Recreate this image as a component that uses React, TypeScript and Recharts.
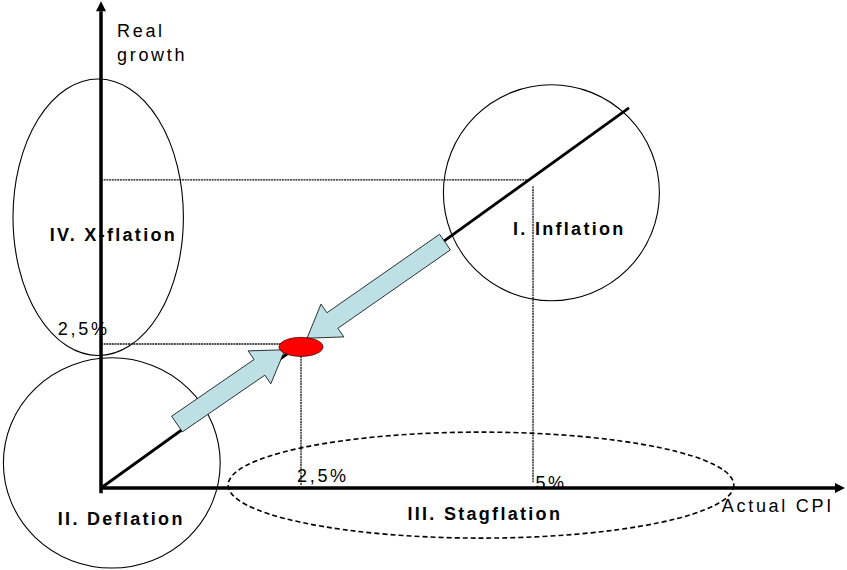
import {
  ComposedChart,
  Line,
  ReferenceArea,
  ReferenceDot,
  ReferenceLine,
  XAxis,
  YAxis,
} from "recharts";

// Diagram units: x = actual CPI, y = real growth. The trend line is growth = CPI.
const diagonal = [
  { cpi: 0, growth: 0 },
  { cpi: 6.6, growth: 6.6 },
];

const axisEnds = { cpi: 9.3, growth: 8.45 };

const targetPoint = { cpi: 2.5, growth: 2.45 };

// thin guide lines at the 2.5% and 5% levels
const guideLines = [
  { x1: 0, y1: 2.5, x2: 2.25, y2: 2.5 },
  { x1: 2.5, y1: 2.29, x2: 2.5, y2: 0.05 },
  { x1: 0, y1: 5.35, x2: 5.33, y2: 5.35 },
  { x1: 5.4, y1: 5.24, x2: 5.4, y2: 0.1 },
];

// regime bubbles (bounding boxes)
const regimes = [
  { name: "IV", x1: -1.1, x2: 1.03, y1: 2.3, y2: 7.1, dashed: false },
  { name: "I", x1: 4.28, x2: 6.98, y1: 3.25, y2: 7.0, dashed: false },
  { name: "II", x1: -1.22, x2: 1.49, y1: -1.39, y2: 2.26, dashed: false },
  { name: "III", x1: 1.59, x2: 7.91, y1: -0.87, y2: 0.97, dashed: true },
];

// the two block arrows pointing at the target
const arrows = [
  { x1: 0.95, y1: 1.11, x2: 2.3, y2: 2.4 },
  { x1: 4.3, y1: 4.27, x2: 2.575, y2: 2.6 },
];

const labels = [
  { text: "Real", x: 0.2, y: 7.83, bold: false },
  { text: "growth", x: 0.2, y: 7.41, bold: false },
  { text: "IV. X-flation", x: -0.64, y: 4.29, bold: true },
  { text: "I. Inflation", x: 5.15, y: 4.39, bold: true },
  { text: "2,5%", x: -0.54, y: 2.66, bold: false },
  { text: "2,5%", x: 2.45, y: 0.1, bold: false },
  { text: "5%", x: 5.43, y: -0.02, bold: false },
  { text: "Actual CPI", x: 7.76, y: -0.42, bold: false },
  { text: "II. Deflation", x: -0.54, y: -0.64, bold: true },
  { text: "III. Stagflation", x: 3.83, y: -0.56, bold: true },
];

const W = 847;
const H = 570;
const ORIGIN_LEFT = 101;
const ORIGIN_TOP = 488;
const PX_X = 80;
const PX_Y = 57.6;
const X_DOMAIN = [-ORIGIN_LEFT / PX_X, (W - ORIGIN_LEFT) / PX_X];
const Y_DOMAIN = [-(H - ORIGIN_TOP) / PX_Y, ORIGIN_TOP / PX_Y];

const FONT = "'Liberation Sans', Arial, sans-serif";

function axisArrow(p: any) {
  const { x1, y1, x2, y2 } = p;
  const len = Math.hypot(x2 - x1, y2 - y1);
  const ux = (x2 - x1) / len;
  const uy = (y2 - y1) / len;
  const bx = x2 - ux * 10;
  const by = y2 - uy * 10;
  const nx = -uy * 5;
  const ny = ux * 5;
  return (
    <g>
      <line x1={x1} y1={y1} x2={bx} y2={by} stroke="#000" strokeWidth={3.5} />
      <polygon
        points={`${x2},${y2} ${bx + nx},${by + ny} ${bx - nx},${by - ny}`}
        fill="#000"
      />
    </g>
  );
}

function blockArrow(p: any) {
  const { x1, y1, x2, y2 } = p;
  const shaft = 19;
  const headW = 40;
  const headL = 31;
  const len = Math.hypot(x2 - x1, y2 - y1);
  const ux = (x2 - x1) / len;
  const uy = (y2 - y1) / len;
  const nx = -uy;
  const ny = ux;
  const bx = x2 - ux * headL;
  const by = y2 - uy * headL;
  const pts = [
    [x1 + (nx * shaft) / 2, y1 + (ny * shaft) / 2],
    [bx + (nx * shaft) / 2, by + (ny * shaft) / 2],
    [bx + (nx * headW) / 2, by + (ny * headW) / 2],
    [x2, y2],
    [bx - (nx * headW) / 2, by - (ny * headW) / 2],
    [bx - (nx * shaft) / 2, by - (ny * shaft) / 2],
    [x1 - (nx * shaft) / 2, y1 - (ny * shaft) / 2],
  ];
  return (
    <polygon
      points={pts.map((q) => q.join(",")).join(" ")}
      fill="#bde0e4"
      stroke="#000"
      strokeWidth={0.8}
    />
  );
}

export default function App() {
  return (
    <div style={{ position: "absolute", left: 0, top: 0, background: "#fff" }}>
      <ComposedChart
        width={W}
        height={H}
        data={diagonal}
        margin={{ top: 0, right: 0, bottom: 0, left: 0 }}
      >
        <XAxis
          type="number"
          dataKey="cpi"
          domain={X_DOMAIN}
          allowDataOverflow
          hide
        />
        <YAxis type="number" domain={Y_DOMAIN} allowDataOverflow hide />

        {regimes.map((r) => (
          <ReferenceArea
            key={r.name}
            x1={r.x1}
            x2={r.x2}
            y1={r.y1}
            y2={r.y2}
            ifOverflow="visible"
            shape={(p: any) => (
              <ellipse
                cx={p.x + p.width / 2}
                cy={p.y + p.height / 2}
                rx={p.width / 2}
                ry={p.height / 2}
                fill="none"
                stroke="#000"
                strokeWidth={r.dashed ? 1.6 : 1.1}
                strokeDasharray={r.dashed ? "5 3" : undefined}
              />
            )}
          />
        ))}

        {guideLines.map((g, i) => (
          <ReferenceLine
            key={`g${i}`}
            segment={[
              { x: g.x1, y: g.y1 },
              { x: g.x2, y: g.y2 },
            ]}
            ifOverflow="visible"
            stroke="#111"
            strokeWidth={1.3}
            strokeDasharray="2 0.7"
          />
        ))}

        <ReferenceLine
          segment={[
            { x: 0, y: -0.09 },
            { x: 0, y: axisEnds.growth },
          ]}
          ifOverflow="visible"
          shape={axisArrow}
        />
        <ReferenceLine
          segment={[
            { x: 0, y: 0 },
            { x: axisEnds.cpi, y: 0 },
          ]}
          ifOverflow="visible"
          shape={axisArrow}
        />

        <Line
          type="linear"
          dataKey="growth"
          stroke="#000"
          strokeWidth={2.8}
          dot={false}
          activeDot={false}
          isAnimationActive={false}
        />

        {arrows.map((a, i) => (
          <ReferenceLine
            key={`a${i}`}
            segment={[
              { x: a.x1, y: a.y1 },
              { x: a.x2, y: a.y2 },
            ]}
            ifOverflow="visible"
            zIndex={700}
            shape={blockArrow}
          />
        ))}

        <ReferenceDot
          x={targetPoint.cpi}
          y={targetPoint.growth}
          r={1}
          ifOverflow="visible"
          zIndex={800}
          shape={(p: any) => (
            <ellipse
              cx={p.cx}
              cy={p.cy}
              rx={22}
              ry={9.5}
              fill="#ff0000"
              stroke="#400"
              strokeWidth={0.8}
            />
          )}
        />

        {labels.map((l, i) => (
          <ReferenceDot
            key={`l${i}`}
            x={l.x}
            y={l.y}
            r={1}
            ifOverflow="visible"
            zIndex={900}
            shape={(p: any) => (
              <text
                x={p.cx}
                y={p.cy}
                fontFamily={FONT}
                fontSize={18}
                fontWeight={l.bold ? "bold" : "normal"}
                letterSpacing={l.bold ? 2.3 : 2.7}
                fill="#000"
              >
                {l.text}
              </text>
            )}
          />
        ))}
      </ComposedChart>
    </div>
  );
}
